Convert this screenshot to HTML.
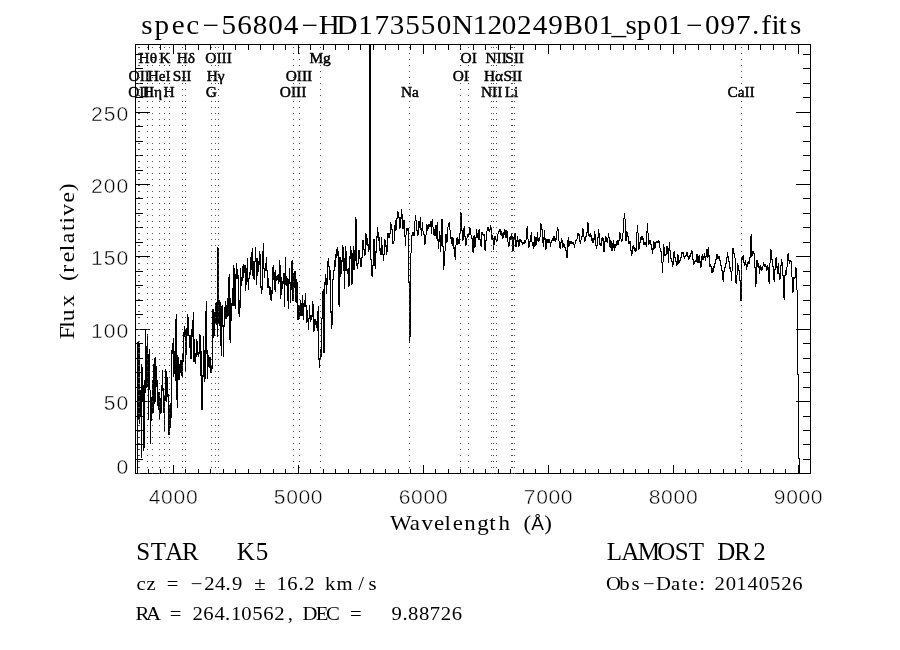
<!DOCTYPE html>
<html lang="en"><head><meta charset="utf-8"><title>spec-56804-HD173550N120249B01_sp01-097.fits</title>
<style>html,body{margin:0;padding:0;background:#fff}body{width:900px;height:650px;overflow:hidden}svg{display:block}.s{font-family:"Liberation Serif",serif;fill:#000}.n{font-family:"Liberation Sans",sans-serif;fill:#000}</style></head><body>
<svg width="900" height="650" viewBox="0 0 900 650">
<rect width="900" height="650" fill="#fff"/>
<path d="M137.5 342V474M138.5 342V419M139.5 343V424M140.5 390V416M141.5 364V458M142.5 367V401M143.5 385V451M144.5 380V448M145.5 330V393M146.5 346V388M147.5 334V387M148.5 354V420M149.5 349V390M150.5 390V444M151.5 397V421M152.5 380V413M153.5 364V413M154.5 358V404M155.5 357V402M156.5 366V387M157.5 380V406M158.5 392V410M159.5 392V420M160.5 398V414M161.5 385V413M162.5 370V391M163.5 388V413M164.5 395V432M165.5 369V401M166.5 371V402M167.5 377V397M168.5 394V435M169.5 405V435M170.5 403V428M171.5 350V418M172.5 343V354M173.5 338V377M174.5 351V374M175.5 319V381M176.5 314V400M177.5 355V408M178.5 357V380M179.5 364V380M180.5 360V373M181.5 360V376M182.5 353V377M183.5 332V362M184.5 326V337M185.5 329V371M186.5 328V355M187.5 314V336M188.5 317V336M189.5 335V348M190.5 335V359M191.5 329V359M192.5 320V337M193.5 312V362M194.5 339V362M195.5 353V364M196.5 339V357M197.5 341V355M198.5 352V357M199.5 334V354M200.5 335V376M201.5 351V410M202.5 375V410M203.5 336V377M204.5 350V382M205.5 311V379M206.5 301V354M207.5 350V379M208.5 355V367M209.5 357V368M210.5 357V373M211.5 366V373M212.5 309V369M213.5 309V338M214.5 312V336M215.5 303V324M216.5 302V325M217.5 247V337M218.5 248V324M219.5 300V326M220.5 302V346M221.5 306V356M222.5 305V327M223.5 325V357M224.5 307V327M225.5 301V319M226.5 305V319M227.5 298V317M228.5 277V316M229.5 274V340M230.5 298V343M231.5 303V321M232.5 288V306M233.5 265V306M234.5 268V306M235.5 274V309M236.5 263V279M237.5 269V279M238.5 275V314M239.5 300V317M240.5 268V308M241.5 277V286M242.5 266V281M243.5 264V278M244.5 265V273M245.5 265V291M246.5 268V285M247.5 258V282M248.5 278V290M249.5 272V279M250.5 257V275M251.5 252V270M252.5 248V276M253.5 261V279M254.5 261V280M255.5 247V262M256.5 258V285M257.5 258V276M258.5 261V272M259.5 251V265M260.5 254V288M261.5 286V294M262.5 251V290M263.5 243V269M264.5 268V278M265.5 263V271M266.5 257V271M267.5 270V288M268.5 278V288M269.5 286V295M270.5 287V300M271.5 290V301M272.5 267V294M273.5 265V280M274.5 272V290M275.5 270V292M276.5 276V281M277.5 275V280M278.5 274V284M279.5 260V282M280.5 265V299M281.5 277V295M282.5 281V289M283.5 273V284M284.5 273V307M285.5 257V285M286.5 276V286M287.5 278V301M288.5 279V309M289.5 268V284M290.5 282V303M291.5 261V290M292.5 260V301M293.5 273V301M294.5 271V288M295.5 271V302M296.5 279V303M297.5 282V320M298.5 305V320M299.5 306V319M300.5 300V316M301.5 303V316M302.5 295V316M303.5 303V320M304.5 300V307M305.5 293V307M306.5 305V323M307.5 310V322M308.5 318V330M309.5 305V319M310.5 315V322M311.5 315V320M312.5 301V317M313.5 304V332M314.5 319V331M315.5 319V325M316.5 321V328M317.5 311V331M318.5 306V360M319.5 358V368M320.5 349V359M321.5 318V357M322.5 291V319M323.5 289V353M324.5 282V353M325.5 274V285M326.5 278V294M327.5 261V285M328.5 258V267M329.5 266V280M330.5 270V313M331.5 311V329M332.5 279V325M333.5 270V280M334.5 260V271M335.5 254V267M336.5 249V258M337.5 247V256M338.5 251V305M339.5 257V307M340.5 257V277M341.5 260V274M342.5 245V262M343.5 247V271M344.5 258V289M345.5 246V271M346.5 251V271M347.5 269V274M348.5 268V287M349.5 256V286M350.5 246V259M351.5 250V285M352.5 253V284M353.5 246V270M354.5 250V270M355.5 217V261M356.5 219V266M357.5 263V269M358.5 250V264M359.5 250V259M360.5 258V267M361.5 257V267M362.5 240V258M363.5 240V250M364.5 249V256M365.5 233V255M366.5 234V245M367.5 238V246M368.5 244V252M369.5 44V250M370.5 44V260M371.5 259V276M372.5 265V277M373.5 239V266M374.5 239V266M375.5 251V269M376.5 236V253M377.5 227V238M378.5 232V241M379.5 237V251M380.5 248V255M381.5 237V255M382.5 245V255M383.5 254V261M384.5 239V255M385.5 240V247M386.5 245V255M387.5 233V252M388.5 233V238M389.5 233V238M390.5 222V234M391.5 224V230M392.5 229V244M393.5 241V244M394.5 225V241M395.5 220V231M396.5 218V230M397.5 211V219M398.5 212V218M399.5 217V229M400.5 217V228M401.5 209V219M402.5 214V229M403.5 220V229M404.5 220V237M405.5 235V246M406.5 228V235M407.5 228V231M408.5 228V283M409.5 281V343M410.5 253V337M411.5 235V253M412.5 232V236M413.5 232V236M414.5 221V236M415.5 215V221M416.5 220V231M417.5 230V236M418.5 221V235M419.5 221V228M420.5 217V230M421.5 228V236M422.5 222V231M423.5 231V235M424.5 234V245M425.5 235V244M426.5 224V235M427.5 225V231M428.5 224V229M429.5 224V227M430.5 221V227M431.5 221V234M432.5 219V227M433.5 227V235M434.5 229V236M435.5 225V236M436.5 225V239M437.5 222V241M438.5 239V249M439.5 231V242M440.5 235V252M441.5 219V246M442.5 219V247M443.5 246V270M444.5 251V266M445.5 234V251M446.5 234V243M447.5 227V242M448.5 223V227M449.5 222V230M450.5 230V239M451.5 237V244M452.5 237V246M453.5 238V249M454.5 247V257M455.5 245V260M456.5 238V245M457.5 237V245M458.5 239V244M459.5 233V244M460.5 212V233M461.5 213V231M462.5 230V241M463.5 228V240M464.5 226V237M465.5 236V246M466.5 238V245M467.5 234V238M468.5 233V237M469.5 227V235M470.5 228V235M471.5 235V239M472.5 238V252M473.5 236V253M474.5 235V248M475.5 237V247M476.5 229V238M477.5 233V238M478.5 230V240M479.5 229V240M480.5 239V246M481.5 232V247M482.5 232V235M483.5 234V236M484.5 234V250M485.5 240V251M486.5 231V241M487.5 227V231M488.5 227V231M489.5 229V232M490.5 225V230M491.5 227V239M492.5 235V240M493.5 238V250M494.5 236V245M495.5 236V240M496.5 239V242M497.5 234V241M498.5 231V234M499.5 229V232M500.5 229V235M501.5 231V236M502.5 233V239M503.5 232V238M504.5 229V235M505.5 230V238M506.5 230V238M507.5 231V242M508.5 242V247M509.5 237V246M510.5 236V240M511.5 233V239M512.5 236V251M513.5 237V251M514.5 233V240M515.5 233V247M516.5 240V247M517.5 236V242M518.5 240V247M519.5 239V246M520.5 239V242M521.5 240V243M522.5 242V245M523.5 242V244M524.5 240V244M525.5 240V243M526.5 228V240M527.5 226V239M528.5 239V248M529.5 241V247M530.5 235V242M531.5 232V242M532.5 242V246M533.5 242V249M534.5 236V247M535.5 237V246M536.5 237V245M537.5 232V241M538.5 238V242M539.5 237V241M540.5 223V237M541.5 224V230M542.5 229V243M543.5 237V247M544.5 230V240M545.5 238V250M546.5 239V249M547.5 239V243M548.5 239V243M549.5 239V243M550.5 242V247M551.5 240V243M552.5 238V241M553.5 236V241M554.5 236V241M555.5 238V242M556.5 231V240M557.5 227V231M558.5 229V241M559.5 241V248M560.5 242V249M561.5 238V243M562.5 240V248M563.5 243V247M564.5 244V248M565.5 247V251M566.5 250V258M567.5 240V258M568.5 237V247M569.5 241V246M570.5 241V244M571.5 241V244M572.5 242V244M573.5 242V245M574.5 244V248M575.5 240V244M576.5 239V241M577.5 233V239M578.5 233V236M579.5 234V242M580.5 240V244M581.5 236V240M582.5 228V237M583.5 229V237M584.5 237V242M585.5 236V241M586.5 232V237M587.5 222V233M588.5 223V236M589.5 234V237M590.5 233V237M591.5 235V241M592.5 238V243M593.5 238V243M594.5 231V240M595.5 234V246M596.5 245V249M597.5 237V246M598.5 229V238M599.5 233V245M600.5 243V246M601.5 238V246M602.5 237V241M603.5 238V252M604.5 241V252M605.5 236V242M606.5 237V242M607.5 238V243M608.5 233V238M609.5 237V247M610.5 240V248M611.5 241V251M612.5 243V251M613.5 240V248M614.5 244V251M615.5 244V248M616.5 241V246M617.5 240V245M618.5 240V245M619.5 232V241M620.5 233V239M621.5 239V242M622.5 233V241M623.5 218V233M624.5 213V219M625.5 219V241M626.5 231V241M627.5 232V237M628.5 236V244M629.5 241V244M630.5 241V251M631.5 250V256M632.5 246V254M633.5 245V249M634.5 247V251M635.5 248V252M636.5 232V251M637.5 225V233M638.5 233V250M639.5 242V249M640.5 237V243M641.5 236V240M642.5 236V240M643.5 238V245M644.5 242V245M645.5 242V245M646.5 231V247M647.5 223V233M648.5 233V245M649.5 240V244M650.5 240V245M651.5 244V250M652.5 248V254M653.5 241V250M654.5 242V249M655.5 242V248M656.5 241V243M657.5 241V243M658.5 240V243M659.5 241V248M660.5 248V252M661.5 251V263M662.5 262V273M663.5 244V262M664.5 247V256M665.5 254V256M666.5 246V255M667.5 246V254M668.5 248V263M669.5 242V251M670.5 250V259M671.5 258V262M672.5 261V267M673.5 252V265M674.5 251V258M675.5 257V262M676.5 261V266M677.5 254V265M678.5 255V264M679.5 260V263M680.5 257V261M681.5 252V258M682.5 252V254M683.5 252V257M684.5 256V259M685.5 255V257M686.5 252V256M687.5 252V257M688.5 256V260M689.5 255V259M690.5 253V257M691.5 250V254M692.5 251V260M693.5 259V265M694.5 261V264M695.5 260V262M696.5 254V262M697.5 254V263M698.5 256V263M699.5 255V263M700.5 261V268M701.5 256V267M702.5 254V260M703.5 256V260M704.5 253V258M705.5 256V261M706.5 249V257M707.5 249V258M708.5 247V257M709.5 255V267M710.5 264V267M711.5 266V273M712.5 268V273M713.5 266V272M714.5 263V268M715.5 259V264M716.5 254V260M717.5 254V259M718.5 256V259M719.5 256V261M720.5 260V266M721.5 265V271M722.5 270V280M723.5 271V282M724.5 267V272M725.5 263V268M726.5 257V264M727.5 252V258M728.5 256V262M729.5 261V269M730.5 267V272M731.5 271V281M732.5 248V271M733.5 248V254M734.5 253V258M735.5 258V283M736.5 275V284M737.5 263V275M738.5 265V271M739.5 270V281M740.5 280V301M741.5 258V301M742.5 256V260M743.5 255V263M744.5 262V266M745.5 260V265M746.5 264V270M747.5 262V267M748.5 261V264M749.5 257V264M750.5 236V258M751.5 234V257M752.5 251V256M753.5 251V254M754.5 253V268M755.5 267V287M756.5 260V284M757.5 260V267M758.5 263V268M759.5 266V274M760.5 265V270M761.5 267V271M762.5 266V270M763.5 262V266M764.5 264V267M765.5 264V267M766.5 266V271M767.5 265V270M768.5 267V282M769.5 263V284M770.5 249V263M771.5 250V260M772.5 259V267M773.5 266V280M774.5 269V282M775.5 258V270M776.5 257V268M777.5 266V274M778.5 263V274M779.5 273V280M780.5 265V279M781.5 259V266M782.5 262V276M783.5 275V298M784.5 275V300M785.5 270V276M786.5 267V275M787.5 254V267M788.5 253V261M789.5 260V264M790.5 260V262M791.5 261V277M792.5 277V293M793.5 277V292M794.5 277V279M795.5 267V278M796.5 268V290M797.5 290V375M798.5 374V459M799.5 458V474" stroke="#000" stroke-width="1" fill="none" shape-rendering="crispEdges"/>
<path d="M135.5 44V474M810.5 44V474M135 44.5H811M135 473.5H811M148.5 469V473M148.5 45V50M160.5 469V473M160.5 45V50M173.5 465V473M173.5 45V54M185.5 469V473M185.5 45V50M198.5 469V473M198.5 45V50M210.5 469V473M210.5 45V50M223.5 469V473M223.5 45V50M235.5 469V473M235.5 45V50M248.5 469V473M248.5 45V50M260.5 469V473M260.5 45V50M273.5 469V473M273.5 45V50M285.5 469V473M285.5 45V50M298.5 465V473M298.5 45V54M310.5 469V473M310.5 45V50M323.5 469V473M323.5 45V50M335.5 469V473M335.5 45V50M348.5 469V473M348.5 45V50M360.5 469V473M360.5 45V50M373.5 469V473M373.5 45V50M385.5 469V473M385.5 45V50M398.5 469V473M398.5 45V50M410.5 469V473M410.5 45V50M423.5 465V473M423.5 45V54M435.5 469V473M435.5 45V50M448.5 469V473M448.5 45V50M460.5 469V473M460.5 45V50M473.5 469V473M473.5 45V50M485.5 469V473M485.5 45V50M498.5 469V473M498.5 45V50M510.5 469V473M510.5 45V50M523.5 469V473M523.5 45V50M535.5 469V473M535.5 45V50M548.5 465V473M548.5 45V54M560.5 469V473M560.5 45V50M573.5 469V473M573.5 45V50M585.5 469V473M585.5 45V50M598.5 469V473M598.5 45V50M610.5 469V473M610.5 45V50M623.5 469V473M623.5 45V50M635.5 469V473M635.5 45V50M648.5 469V473M648.5 45V50M660.5 469V473M660.5 45V50M673.5 465V473M673.5 45V54M685.5 469V473M685.5 45V50M698.5 469V473M698.5 45V50M710.5 469V473M710.5 45V50M723.5 469V473M723.5 45V50M735.5 469V473M735.5 45V50M748.5 469V473M748.5 45V50M760.5 469V473M760.5 45V50M773.5 469V473M773.5 45V50M785.5 469V473M785.5 45V50M798.5 465V473M798.5 45V54M136 459.5H143M803 459.5H810M136 444.5H143M803 444.5H810M136 430.5H143M803 430.5H810M136 416.5H143M803 416.5H810M136 401.5H150M796 401.5H810M136 387.5H143M803 387.5H810M136 372.5H143M803 372.5H810M136 358.5H143M803 358.5H810M136 343.5H143M803 343.5H810M136 329.5H150M796 329.5H810M136 314.5H143M803 314.5H810M136 300.5H143M803 300.5H810M136 285.5H143M803 285.5H810M136 271.5H143M803 271.5H810M136 256.5H150M796 256.5H810M136 242.5H143M803 242.5H810M136 227.5H143M803 227.5H810M136 213.5H143M803 213.5H810M136 198.5H143M803 198.5H810M136 184.5H150M796 184.5H810M136 170.5H143M803 170.5H810M136 155.5H143M803 155.5H810M136 141.5H143M803 141.5H810M136 126.5H143M803 126.5H810M136 112.5H150M796 112.5H810M136 97.5H143M803 97.5H810M136 83.5H143M803 83.5H810M136 68.5H143M803 68.5H810M136 54.5H143M803 54.5H810" stroke="#000" stroke-width="1" fill="none" shape-rendering="crispEdges"/>
<g class="s" font-size="14" text-anchor="middle" stroke="#000" stroke-width="0.45" transform="scale(1.1,1)">
<text x="126.3" y="97.3">OII</text>
<text x="126.6" y="80.7">OII</text>
<text x="134.4" y="63.4">Hθ</text>
<text x="138.7" y="97.3">Hη</text>
<text x="144.7" y="80.7">HeI</text>
<text x="149.9" y="63.4">K</text>
<text x="153.8" y="97.3">H</text>
<text x="165.5" y="80.7">SII</text>
<text x="169.0" y="63.4">Hδ</text>
<text x="192.0" y="97.3">G</text>
<text x="196.1" y="80.7">Hγ</text>
<text x="198.7" y="63.4">OIII</text>
<text x="266.4" y="97.3">OIII</text>
<text x="271.8" y="80.7">OIII</text>
<text x="291.0" y="63.4">Mg</text>
<text x="372.7" y="97.3">Na</text>
<text x="418.9" y="80.7">OI</text>
<text x="426.1" y="63.4">OI</text>
<text x="447.0" y="97.3">NII</text>
<text x="448.7" y="80.7">Hα</text>
<text x="451.1" y="63.4">NII</text>
<text x="465.0" y="97.3">Li</text>
<text x="466.2" y="80.7">SII</text>
<text x="467.8" y="63.4">SII</text>
<text x="673.7" y="97.3">CaII</text>
</g>
<path d="M138.5 47V474M139.5 47V474M147.5 47V474M152.5 47V474M159.5 47V474M164.5 47V474M169.5 47V474M182.5 47V474M185.5 47V474M211.5 47V474M215.5 47V474M218.5 47V474M293.5 47V474M299.5 47V474M320.5 47V474M409.5 47V474M460.5 47V474M468.5 47V474M491.5 47V474M493.5 47V474M496.5 47V474M511.5 47V474M512.5 47V474M514.5 47V474M741.5 47V474" stroke="#a52a2a" stroke-width="1" stroke-dasharray="1 5" fill="none" shape-rendering="crispEdges"/>
<g class="n" font-size="20.7" text-anchor="middle" transform="scale(1.02,1)" stroke="#fff" stroke-width="0.45">
<text x="151.6 163.7 175.9 188.0" y="504.2">4000</text>
<text x="274.2 286.3 298.4 310.5" y="504.2">5000</text>
<text x="396.7 408.8 421.0 433.1" y="504.2">6000</text>
<text x="519.3 531.4 543.5 555.6" y="504.2">7000</text>
<text x="641.8 653.9 666.1 678.2" y="504.2">8000</text>
<text x="764.4 776.5 788.6 800.7" y="504.2">9000</text>
<text x="120.1" y="474.2">0</text>
<text x="107.5 120.1" y="410.2">50</text>
<text x="95.0 107.5 120.1" y="338.2">100</text>
<text x="95.0 107.5 120.1" y="265.2">150</text>
<text x="95.0 107.5 120.1" y="193.2">200</text>
<text x="95.0 107.5 120.1" y="121.2">250</text>
</g>
<text class="s" x="133.5 147.1 162.0 175.2 191.9 208.1 222.2 236.4 250.5 264.6 281.8 299.4 315.5 332.4 347.0 360.9 375.1 389.2 403.6 420.6 436.4 449.7 462.7 476.7 490.9 505.1 521.2 537.4 550.9 562.6 573.7 585.6 600.5 613.9 631.3 647.5 661.6 675.7 686.9 696.4 705.1 711.7 723.3" y="34.3" font-size="26.5" text-anchor="middle" transform="scale(1.1,1)">spec−56804−HD173550N120249B01_sp01−097.fits</text>
<text class="s" x="358.0 370.5 381.5 392.0 399.7 408.7 419.6 431.2 439.6 450.3 460.7 470.8" y="530" font-size="20.5" text-anchor="middle" transform="scale(1.12,1)">Wavelength (</text>
<text class="n" x="537.6" y="530" font-size="19" text-anchor="middle">Å</text>
<text class="s" x="489.3" y="530" font-size="20.5" text-anchor="middle" transform="scale(1.12,1)">)</text>
<text class="s" x="-289.2 -282.1 -274.3 -261.7 -251.3 -241.0 -233.8 -223.6 -215.7 -207.0 -198.0 -191.6 -182.4 -171.5 -163.0" y="0" font-size="20.5" text-anchor="middle" transform="translate(74,0) rotate(-90) scale(1.15,1)">Flux (relative)</text>
<text class="s" x="143.3 158.3 174.2 190.3" y="559.8" font-size="25" text-anchor="middle">STAR</text>
<text class="s" x="245.8 262.0" y="559.8" font-size="25" text-anchor="middle">K5</text>
<text class="s" x="125.9 135.0 144.5 154.0 164.8 175.6 186.9 196.6 203.7 211.8 222.0 232.1 241.8 251.5 261.2 268.8 276.2 285.5 294.9 307.6 322.5 332.6" y="589.8" font-size="18.5" text-anchor="middle" transform="scale(1.12,1)">cz = −24.9 ± 16.2 km/s</text>
<text class="s" x="127.1 137.1 146.9 156.7 166.6 176.5 186.2 196.2 203.3 210.9 220.1 229.9 239.6 249.6 259.2 267.9 276.8 287.5 297.3 307.5 317.7" y="619.7" font-size="18.5" text-anchor="middle" transform="scale(1.12,1)">RA = 264.10562, DEC =</text>
<text class="s" x="354.2 361.8 368.9 378.7 388.4 398.1 407.9" y="619.7" font-size="18.5" text-anchor="middle" transform="scale(1.12,1)">9.88726</text>
<text class="s" x="614.4 630.4 648.8 666.4 681.8 696.4 711.4 726.4 742.6 759.4" y="560" font-size="25" text-anchor="middle">LAMOST DR2</text>
<text class="s" x="547.8 557.6 567.4 579.3 592.4 603.2 611.2 618.8 626.8 634.6 642.6 652.6 662.1 672.1 682.1 692.1 702.1 712.1" y="589.8" font-size="18.5" text-anchor="middle" transform="scale(1.12,1)">Obs−Date: 20140526</text>
</svg></body></html>
